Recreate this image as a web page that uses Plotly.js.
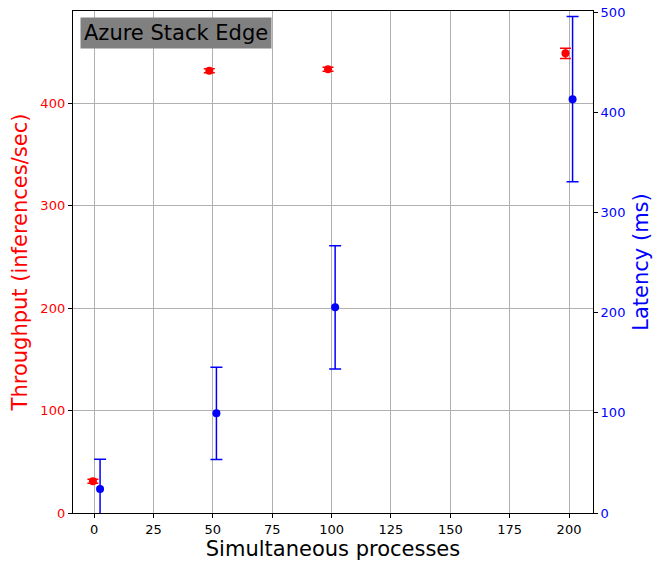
<!DOCTYPE html>
<html>
<head>
<meta charset="utf-8">
<script src="https://cdn.plot.ly/plotly-3.0.1.min.js"></script>
<style>html,body{margin:0;padding:0;background:#fff;}#chart{width:664px;height:562px;}</style>
</head>
<body>
<div id="chart"></div>
<script>
const thrX = [-0.5, 48.5, 98.5, 198.5];
const thrY = [31, 431.5, 433, 448.5];
const thrErr = [2, 2, 2, 5];
const latX = [2.5, 51.5, 101.5, 201.5];
const latY = [24, 99.5, 205.3, 413];
const latErr = [29.6, 46, 61.5, 82.5];
const xTicks = [0, 25, 50, 75, 100, 125, 150, 175, 200];

const font = "DejaVu Sans, sans-serif";
const data = [
  {x: thrX, y: thrY, type: 'scatter', mode: 'markers', yaxis: 'y',
   marker: {color: 'red', size: 8},
   error_y: {type: 'data', array: thrErr, visible: true, color: 'red', thickness: 1.5, width: 5.5},
   hoverinfo: 'skip', showlegend: false},
  {x: latX, y: latY, type: 'scatter', mode: 'markers', yaxis: 'y2',
   marker: {color: 'blue', size: 8},
   error_y: {type: 'data', array: latErr, visible: true, color: 'blue', thickness: 1.5, width: 6},
   hoverinfo: 'skip', showlegend: false}
];
const layout = {
  width: 664, height: 562,
  margin: {l: 73, r: 71, t: 11, b: 49},
  paper_bgcolor: '#fff', plot_bgcolor: '#fff',
  font: {family: font, size: 13, color: 'black'},
  xaxis: {range: [-8.9, 210.1], tickvals: xTicks, ticktext: xTicks.map(String),
    showgrid: true, gridcolor: '#b0b0b0', gridwidth: 1, zeroline: false,
    showline: true, mirror: true, linecolor: 'black', linewidth: 1.2,
    ticks: 'outside', ticklen: 4, tickcolor: 'black',
    tickfont: {family: font, size: 13, color: 'black'},
    title: {text: 'Simultaneous processes', font: {family: font, size: 21, color: 'black'}, standoff: 5}},
  yaxis: {range: [0, 489.8], dtick: 100, showgrid: true, gridcolor: '#b0b0b0', gridwidth: 1, zeroline: false,
    showline: true, mirror: true, linecolor: 'black', linewidth: 1.2,
    ticks: 'outside', ticklen: 4, tickcolor: 'black',
    tickfont: {family: font, size: 13, color: 'red'},
    title: {text: 'Throughput (inferences/sec)', font: {family: font, size: 21, color: 'red'}, standoff: 7}},
  yaxis2: {range: [0, 501], dtick: 100, overlaying: 'y', side: 'right', showgrid: false, zeroline: false,
    ticks: 'outside', ticklen: 4, tickcolor: 'black',
    tickfont: {family: font, size: 13, color: 'blue'},
    title: {text: 'Latency (ms)', font: {family: font, size: 21, color: 'blue'}, standoff: 8}},
  annotations: [{xref: 'paper', yref: 'paper', x: 0.0134, y: 0.988, xanchor: 'left', yanchor: 'top',
    text: 'Azure Stack Edge', showarrow: false, bgcolor: '#808080', borderpad: 3,
    font: {family: font, size: 21, color: 'black'}}]
};
Plotly.newPlot('chart', data, layout, {displayModeBar: false, staticPlot: true});
</script>
</body>
</html>
